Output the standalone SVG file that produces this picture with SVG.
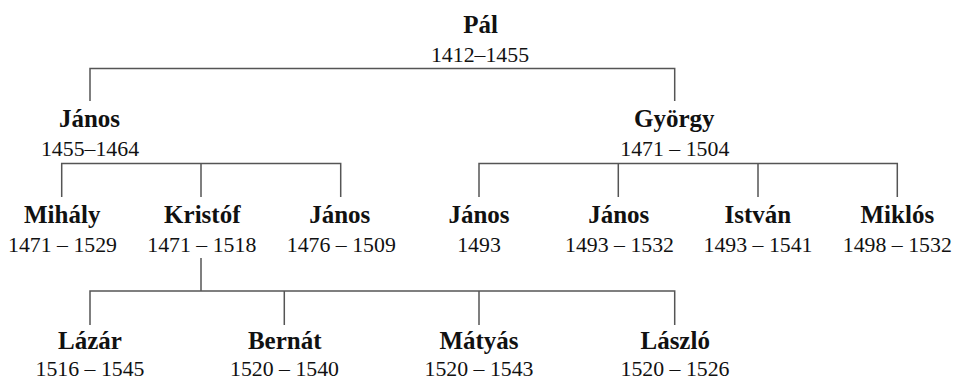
<svg xmlns="http://www.w3.org/2000/svg" width="954" height="380" viewBox="0 0 954 380">
<style>
svg text.n{font-family:'Liberation Serif','Times New Roman',serif !important;font-weight:bold;font-size:25px;fill:#111;text-anchor:middle}
svg text.y{font-family:'Liberation Serif','Times New Roman',serif !important;font-size:21.8px;fill:#111;text-anchor:middle}
.c{fill:none;stroke:#555;stroke-width:1.5}
</style>
<rect width="954" height="380" fill="#fff"/>
<g id="connectors">
<path class="c" d="M90,101 V68.5 H674.7 V101"/>
<path class="c" d="M61.7,197 V163.5 H340.7 V197 M201,163.5 V197"/>
<path class="c" d="M479,197 V163.5 H897.3 V197 M618.3,163.5 V197 M758,163.5 V197"/>
<path class="c" d="M201,258 V291 M90,325 V291 H674.7 V325 M284.3,291 V325 M479,291 V325"/>
</g>
<g id="pal"><text class="n" font-family="Liberation Serif" x="480.5" y="32.5">Pál</text><text class="y" font-family="Liberation Serif" x="480" y="61.5">1412–1455</text></g>
<g id="janos1"><text class="n" font-family="Liberation Serif" x="89.5" y="127">János</text><text class="y" font-family="Liberation Serif" x="90" y="155.5">1455–1464</text></g>
<g id="gyorgy"><text class="n" font-family="Liberation Serif" x="674.3" y="127">György</text><text class="y" font-family="Liberation Serif" x="674.8" y="155.5">1471 – 1504</text></g>
<g id="mihaly"><text class="n" font-family="Liberation Serif" x="62.2" y="223">Mihály</text><text class="y" font-family="Liberation Serif" x="62.5" y="251.5">1471 – 1529</text></g>
<g id="kristof"><text class="n" font-family="Liberation Serif" x="202.3" y="223">Kristóf</text><text class="y" font-family="Liberation Serif" x="201.8" y="251.5">1471 – 1518</text></g>
<g id="janos2"><text class="n" font-family="Liberation Serif" x="339.8" y="223">János</text><text class="y" font-family="Liberation Serif" x="341.3" y="251.5">1476 – 1509</text></g>
<g id="janos3"><text class="n" font-family="Liberation Serif" x="479" y="223">János</text><text class="y" font-family="Liberation Serif" x="479" y="251.5">1493</text></g>
<g id="janos4"><text class="n" font-family="Liberation Serif" x="618.7" y="223">János</text><text class="y" font-family="Liberation Serif" x="619.5" y="251.5">1493 – 1532</text></g>
<g id="istvan"><text class="n" font-family="Liberation Serif" x="757.8" y="223">István</text><text class="y" font-family="Liberation Serif" x="758" y="251.5">1493 – 1541</text></g>
<g id="miklos"><text class="n" font-family="Liberation Serif" x="897.3" y="223">Miklós</text><text class="y" font-family="Liberation Serif" x="897.3" y="251.5">1498 – 1532</text></g>
<g id="lazar"><text class="n" font-family="Liberation Serif" x="90" y="348.5">Lázár</text><text class="y" font-family="Liberation Serif" x="90" y="376">1516 – 1545</text></g>
<g id="bernat"><text class="n" font-family="Liberation Serif" x="284.7" y="348.5">Bernát</text><text class="y" font-family="Liberation Serif" x="284.5" y="376">1520 – 1540</text></g>
<g id="matyas"><text class="n" font-family="Liberation Serif" x="479" y="348.5">Mátyás</text><text class="y" font-family="Liberation Serif" x="479" y="376">1520 – 1543</text></g>
<g id="laszlo"><text class="n" font-family="Liberation Serif" x="675.2" y="348.5">László</text><text class="y" font-family="Liberation Serif" x="675" y="376">1520 – 1526</text></g>
</svg>
